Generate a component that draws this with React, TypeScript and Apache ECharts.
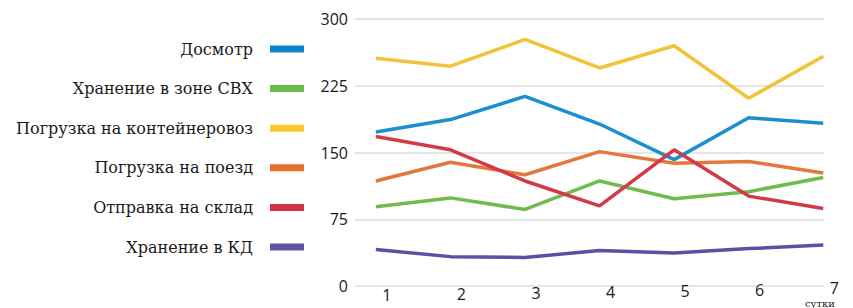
import React, { useEffect, useRef } from "react";
import * as echarts from "echarts";

const days = [1, 2, 3, 4, 5, 6, 7];
const yTicks = [0, 75, 150, 225, 300];

const seriesNames = [
  "Досмотр",
  "Хранение в зоне СВХ",
  "Погрузка на контейнеровоз",
  "Погрузка на поезд",
  "Отправка на склад",
  "Хранение в КД",
];
const colors = ["#0a87cc", "#6cbb50", "#fcc82e", "#e4702e", "#d13340", "#5f55a5"];
const lineColors = ["#1b8fd0", "#6fbb4e", "#f2c23a", "#e5773a", "#d23a47", "#5d4fa6"];

const inspection = [173, 187, 213, 182, 142, 189, 183];
const svhStorage = [89, 99, 86, 118, 98, 106, 122];
const truckLoading = [256, 247, 277, 245, 270, 211, 258];
const trainLoading = [118, 139, 125, 151, 138, 140, 127];
const warehouse = [168, 153, 118, 90, 153, 101, 87];
const kdStorage = [41, 33, 32, 40, 37, 42, 46];

const values = [inspection, svhStorage, truckLoading, trainLoading, warehouse, kdStorage];

// perspective-like lift of the day labels toward the right
const labelDrop = [15, 14, 12, 10, 8, 5, 1];

export default function App() {
  const ref = useRef<HTMLDivElement>(null);
  useEffect(() => {
    if (!ref.current) return;
    const chart = echarts.init(ref.current, undefined, { renderer: "svg" });
    const rich: Record<string, any> = {};
    days.forEach((d, i) => {
      rich["d" + d] = {
        fontFamily: "Open Sans",
        fontSize: 16,
        lineHeight: 16,
        color: "#1a1a1a",
        padding: [labelDrop[i], 0, 0, 22],
      };
    });
    chart.setOption({
      animation: false,
      backgroundColor: "#ffffff",
      legend: {
        orient: "vertical",
        right: 549,
        top: 41,
        padding: 0,
        align: "right",
        icon: "rect",
        itemWidth: 34,
        itemHeight: 7,
        itemGap: 23.6,
        data: seriesNames.map((name, i) => ({ name, itemStyle: { color: colors[i] } })),
        textStyle: {
          fontFamily: "DejaVu Serif",
          fontSize: 16,
          lineHeight: 16,
          color: "#1a1a1a",
          padding: [0, 12, 0, 0],
        },
      },
      grid: { left: 355, right: 29, top: 19, bottom: 22 },
      xAxis: {
        type: "value",
        min: 0.72,
        max: 7.01,
        axisLine: { show: false },
        axisTick: { show: false },
        splitLine: { show: false },
        axisLabel: {
          customValues: days,
          margin: -7,
          formatter: (v: number) => `{d${v}|${v}}`,
          rich,
        },
      },
      yAxis: {
        type: "value",
        min: 0,
        max: 300,
        interval: 75,
        axisLine: { show: false },
        axisTick: { show: false },
        axisLabel: {
          margin: 7,
          fontFamily: "Open Sans",
          fontSize: 16,
          color: "#1a1a1a",
          customValues: yTicks,
        },
        splitLine: { lineStyle: { color: "#e6e6e6", width: 2 } },
      },
      graphic: [
        {
          type: "text",
          left: 805,
          bottom: 0,
          style: {
            text: "сутки",
            fontFamily: "DejaVu Serif",
            fontSize: 10,
            fill: "#1a1a1a",
          },
        },
      ],
      series: seriesNames.map((name, i) => ({
        name,
        type: "line",
        data: values[i].map((v, j) => [days[j], v]),
        showSymbol: false,
        symbol: "none",
        lineStyle: { width: 3.5, color: lineColors[i] },
        itemStyle: { color: colors[i] },
      })),
    });
    return () => chart.dispose();
  }, []);
  return <div ref={ref} style={{ width: 853, height: 308, position: "absolute", left: 0, top: 0 }} />;
}
